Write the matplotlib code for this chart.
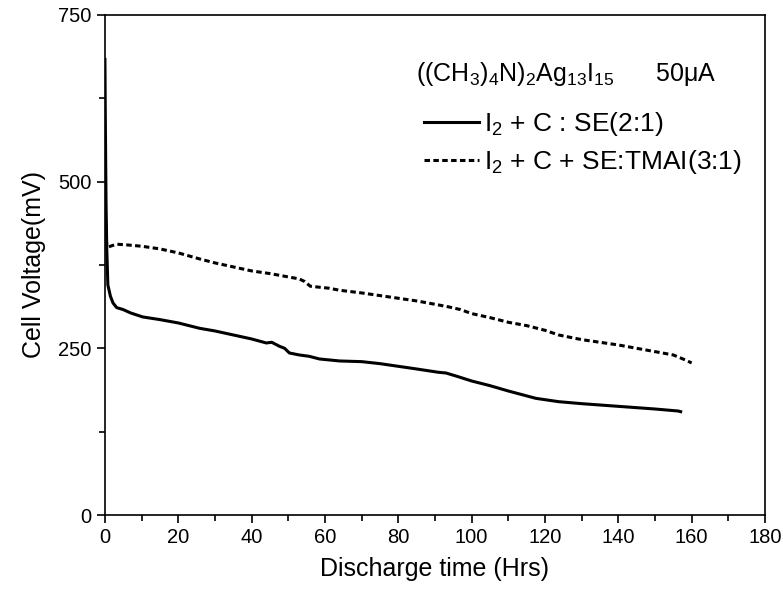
import matplotlib
matplotlib.use("Agg")
import matplotlib.pyplot as plt
from matplotlib.ticker import MultipleLocator

plt.rcParams['font.family'] = ['Liberation Sans', 'DejaVu Sans']
plt.rcParams['mathtext.fontset'] = 'custom'
plt.rcParams['mathtext.rm'] = 'Liberation Sans'
plt.rcParams['mathtext.it'] = 'Liberation Sans:italic'
plt.rcParams['mathtext.default'] = 'regular'

# I2 + C : SE(2:1)
t_solid = [0, 0.1, 0.3, 0.5, 0.8, 1.5, 2.2, 3.2, 5, 7, 10.3, 15, 20, 25.8, 30, 35, 40, 44,
           45.5, 47.6, 49, 50.3, 53, 55.7, 58.5, 64, 70, 75, 80, 85, 91, 93, 96, 100,
           105, 110, 117.5, 123.7, 130, 135, 140, 145, 150, 156.3, 157]
v_solid = [683, 600, 470, 400, 345, 328, 318, 311, 308, 303, 297, 293, 288, 280, 276, 270, 264, 258,
           259, 253, 250, 243, 240, 238, 234, 231, 230, 227, 223, 219, 214, 213, 208, 201,
           194, 186, 175, 170, 167, 165, 163, 161, 159, 156, 155]

# I2 + C + SE:TMAI(3:1)
t_dash = [0, 0.2, 0.5, 1, 2, 3.3, 6, 10, 15, 20, 25.8, 30, 35, 40, 45, 50, 53, 54.5, 56,
          61.2, 64, 70, 75, 80, 85, 90, 93.8, 97, 100, 105, 110, 115, 120, 123.7,
          126.4, 130, 135, 140, 145, 150, 155, 158.5, 160]
v_dash = [480, 430, 405, 402, 404, 406, 405, 403, 399, 393, 384, 378, 372, 366, 362, 357, 354, 350, 343,
          340, 337, 333, 329, 325, 321, 316, 312, 308, 302, 296, 289, 284, 277, 270,
          267, 263, 259, 255, 250, 245, 240, 232, 228]

fig = plt.figure(figsize=(7.83, 5.90), dpi=100)
ax = fig.add_axes([0.134, 0.127, 0.843, 0.848])

ax.plot(t_solid, v_solid, color='black', lw=2.2, solid_joinstyle='round',
        label=r'I$_2$ + C : SE(2:1)')
ax.plot(t_dash, v_dash, color='black', lw=2.2, linestyle=(0, (1.8, 1.1)),
        label=r'I$_2$ + C + SE:TMAI(3:1)')

ax.set_xlim(0, 180)
ax.set_ylim(0, 750)
ax.xaxis.set_major_locator(MultipleLocator(20))
ax.xaxis.set_minor_locator(MultipleLocator(10))
ax.yaxis.set_major_locator(MultipleLocator(250))
ax.yaxis.set_minor_locator(MultipleLocator(125))
ax.tick_params(which='both', direction='out', labelsize=14.5, width=1.2)
ax.tick_params(which='major', length=6)
ax.tick_params(which='minor', length=4)
for s in ax.spines.values():
    s.set_linewidth(1.2)

ax.set_xlabel('Discharge time (Hrs)', fontsize=18, labelpad=7)
ax.set_ylabel('Cell Voltage(mV)', fontsize=18, labelpad=9)

ax.text(0.472, 0.868, r'((CH$_3$)$_4$N)$_2$Ag$_{13}$I$_{15}$      50$\mu$A',
        transform=ax.transAxes, fontsize=18, ha='left', va='baseline')
ax.legend(loc='upper left', bbox_to_anchor=(0.483, 0.81), frameon=False, fontsize=19,
          handlelength=2.1, handletextpad=0.2, labelspacing=0.4, borderpad=0,
          borderaxespad=0)

fig.savefig('out.png', dpi=100)
